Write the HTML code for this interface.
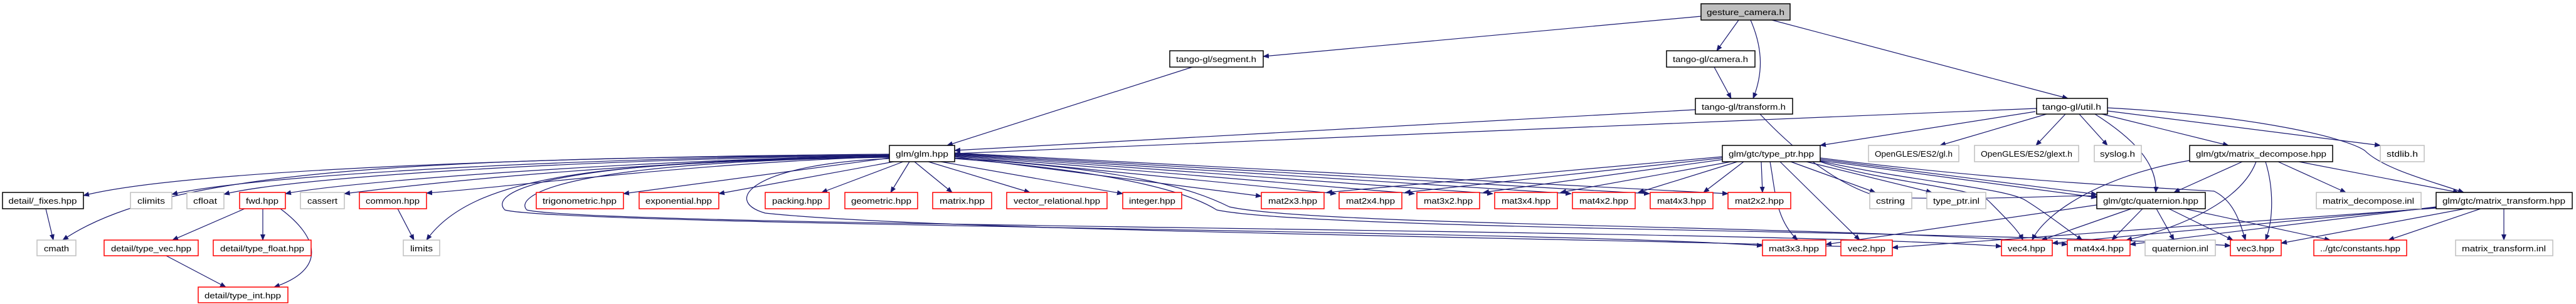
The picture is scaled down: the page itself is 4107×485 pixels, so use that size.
<!DOCTYPE html>
<html><head><meta charset="utf-8"><style>
html,body{margin:0;padding:0;background:#fff;}
svg{display:block;}
text{font-family:"Liberation Sans",sans-serif;font-size:13px;fill:#000;}
.e{fill:none;stroke:#191970;stroke-width:1.2;}
</style></head><body>
<svg width="4107" height="485" viewBox="0 0 4107 485" xmlns="http://www.w3.org/2000/svg">
<defs><marker id="a" markerWidth="10" markerHeight="8" refX="9" refY="4" orient="auto" markerUnits="userSpaceOnUse"><path d="M0,0 L10,4 L0,8 z" fill="#191970"/></marker></defs>
<g class="e" marker-end="url(#a)">
<path d="M2712,26 L2014,90"/>
<path d="M2772,32 L2737,81"/>
<path d="M2791,32 C2812,80 2810,120 2795,157"/>
<path d="M2825,32 L3297,157"/>
<path d="M1901,107 L1510,232"/>
<path d="M2733,107 L2760,157"/>
<path d="M2703,175 L1522,240"/>
<path d="M2806,182 C2870,250 2940,300 3000,315 C3200,320 3300,310 3343,313"/>
<path d="M3247,173 C2800,190 1900,230 1522,245"/>
<path d="M3245,178 L2902,232"/>
<path d="M3263,182 L3093,232"/>
<path d="M3293,182 L3246,232"/>
<path d="M3315,182 L3360,232"/>
<path d="M3351,182 L3553,232"/>
<path d="M3340,182 C3400,220 3440,260 3437,307"/>
<path d="M3360,177 L3795,232"/>
<path d="M3360,172 C3600,185 3740,220 3770,240 C3800,270 3880,290 3928,307"/>
<path d="M1418,246 C900,250 300,270 133,312"/>
<path d="M1418,247 C900,252 400,280 274,310"/>
<path d="M1418,248 C900,254 450,285 357,310"/>
<path d="M1418,248 C1000,256 550,290 455,309"/>
<path d="M1418,249 C1000,258 700,290 549,309"/>
<path d="M1418,250 C1100,260 800,300 680,308"/>
<path d="M1418,248 C600,250 250,280 100,383"/>
<path d="M1418,250 C1000,260 760,270 680,383"/>
<path d="M1418,252 L994,309"/>
<path d="M1425,258 L1146,309"/>
<path d="M1440,258 L1310,307"/>
<path d="M1450,258 L1420,307"/>
<path d="M1458,258 L1518,307"/>
<path d="M1480,258 L1642,307"/>
<path d="M1500,258 L1790,309"/>
<path d="M1522,250 L2011,313"/>
<path d="M1522,249 L2130,309"/>
<path d="M1522,248 L2255,309"/>
<path d="M1522,247 L2380,309"/>
<path d="M1522,246 L2505,309"/>
<path d="M1522,245 L2630,309"/>
<path d="M1522,244 L2755,309"/>
<path d="M1418,250 C850,255 780,310 805,335 C900,360 2500,368 2810,392"/>
<path d="M1418,251 C880,258 820,315 840,335 C950,362 2800,365 3191,393"/>
<path d="M1522,252 C1800,270 1900,300 1960,330 C2100,362 3000,360 3296,390"/>
<path d="M1522,253 C1800,275 1900,310 1940,335 C2100,368 3200,368 3556,392"/>
<path d="M1418,253 C1200,262 1150,320 1220,340 C1500,370 2600,380 3017,396"/>
<path d="M73,333 L85,383"/>
<path d="M390,333 L275,383"/>
<path d="M419,333 L419,383"/>
<path d="M447,333 C510,380 520,430 437,458"/>
<path d="M265,408 L360,458"/>
<path d="M634,333 L660,383"/>
<path d="M2746,250 L2115,307"/>
<path d="M2746,252 L2240,307"/>
<path d="M2750,254 L2365,307"/>
<path d="M2760,258 L2488,307"/>
<path d="M2770,258 L2612,307"/>
<path d="M2780,258 L2716,307"/>
<path d="M2808,258 L2810,307"/>
<path d="M2822,258 C2830,300 2830,350 2866,383"/>
<path d="M2838,258 L2965,383"/>
<path d="M2855,258 L2990,307"/>
<path d="M2880,258 L3080,307"/>
<path d="M2902,254 L3343,310"/>
<path d="M2902,256 L3343,315"/>
<path d="M2902,258 C3000,290 3150,300 3170,320 C3200,350 3220,370 3225,383"/>
<path d="M2902,257 C3050,290 3200,300 3230,320 C3270,345 3300,370 3320,383"/>
<path d="M2902,252 C3200,290 3450,300 3530,305 C3560,320 3570,350 3580,383"/>
<path d="M3491,256 C3350,280 3260,340 3240,383"/>
<path d="M3575,258 L3466,307"/>
<path d="M3597,258 C3570,330 3450,370 3390,383"/>
<path d="M3612,258 C3625,300 3625,350 3612,383"/>
<path d="M3632,258 L3740,307"/>
<path d="M3665,258 L3920,307"/>
<path d="M3343,327 L2911,390"/>
<path d="M3398,333 L3255,383"/>
<path d="M3416,333 L3367,383"/>
<path d="M3438,333 L3466,383"/>
<path d="M3458,333 L3560,383"/>
<path d="M3483,333 L3715,383"/>
<path d="M3884,330 L3396,390"/>
<path d="M3884,331 L3272,388"/>
<path d="M3884,332 L3017,395"/>
<path d="M3930,333 L3637,388"/>
<path d="M3955,333 L3808,383"/>
<path d="M3992,333 L3992,383"/>
</g>
<g stroke-width="1.5">
<!-- nodes -->
<rect x="2712" y="6" width="142" height="26" fill="#bfbfbf" stroke="#000"/><text x="2783" y="24" text-anchor="middle" textLength="124" lengthAdjust="spacingAndGlyphs">gesture_camera.h</text>
<rect x="1865" y="81" width="149" height="26" fill="#fff" stroke="#000"/><text x="1939" y="99" text-anchor="middle" textLength="128" lengthAdjust="spacingAndGlyphs">tango-gl/segment.h</text>
<rect x="2657" y="81" width="141" height="26" fill="#fff" stroke="#000"/><text x="2727" y="99" text-anchor="middle" textLength="120" lengthAdjust="spacingAndGlyphs">tango-gl/camera.h</text>
<rect x="2703" y="157" width="155" height="25" fill="#fff" stroke="#000"/><text x="2780" y="175" text-anchor="middle" textLength="134" lengthAdjust="spacingAndGlyphs">tango-gl/transform.h</text>
<rect x="3247" y="157" width="113" height="25" fill="#fff" stroke="#000"/><text x="3303" y="175" text-anchor="middle" textLength="94" lengthAdjust="spacingAndGlyphs">tango-gl/util.h</text>
<rect x="1418" y="232" width="104" height="26" fill="#fff" stroke="#000"/><text x="1470" y="250" text-anchor="middle" textLength="84" lengthAdjust="spacingAndGlyphs">glm/glm.hpp</text>
<rect x="2746" y="232" width="156" height="26" fill="#fff" stroke="#000"/><text x="2824" y="250" text-anchor="middle" textLength="136" lengthAdjust="spacingAndGlyphs">glm/gtc/type_ptr.hpp</text>
<rect x="2979" y="232" width="144" height="26" fill="#fff" stroke="#bfbfbf"/><text x="3051" y="250" text-anchor="middle" textLength="124" lengthAdjust="spacingAndGlyphs">OpenGLES/ES2/gl.h</text>
<rect x="3148" y="232" width="166" height="26" fill="#fff" stroke="#bfbfbf"/><text x="3231" y="250" text-anchor="middle" textLength="146" lengthAdjust="spacingAndGlyphs">OpenGLES/ES2/glext.h</text>
<rect x="3339" y="232" width="75" height="26" fill="#fff" stroke="#bfbfbf"/><text x="3376" y="250" text-anchor="middle" textLength="56" lengthAdjust="spacingAndGlyphs">syslog.h</text>
<rect x="3491" y="232" width="228" height="26" fill="#fff" stroke="#000"/><text x="3605" y="250" text-anchor="middle" textLength="208" lengthAdjust="spacingAndGlyphs">glm/gtx/matrix_decompose.hpp</text>
<rect x="3795" y="232" width="70" height="26" fill="#fff" stroke="#bfbfbf"/><text x="3830" y="250" text-anchor="middle" textLength="50" lengthAdjust="spacingAndGlyphs">stdlib.h</text>

<rect x="4" y="307" width="129" height="26" fill="#fff" stroke="#000"/><text x="68" y="325" text-anchor="middle" textLength="109" lengthAdjust="spacingAndGlyphs">detail/_fixes.hpp</text>
<rect x="208" y="307" width="66" height="26" fill="#fff" stroke="#bfbfbf"/><text x="241" y="325" text-anchor="middle" textLength="44" lengthAdjust="spacingAndGlyphs">climits</text>
<rect x="298" y="307" width="59" height="26" fill="#fff" stroke="#bfbfbf"/><text x="327" y="325" text-anchor="middle" textLength="38" lengthAdjust="spacingAndGlyphs">cfloat</text>
<rect x="382" y="307" width="73" height="26" fill="#fff" stroke="#f00"/><text x="418" y="325" text-anchor="middle" textLength="52" lengthAdjust="spacingAndGlyphs">fwd.hpp</text>
<rect x="479" y="307" width="70" height="26" fill="#fff" stroke="#bfbfbf"/><text x="514" y="325" text-anchor="middle" textLength="48" lengthAdjust="spacingAndGlyphs">cassert</text>
<rect x="573" y="307" width="107" height="26" fill="#fff" stroke="#f00"/><text x="626" y="325" text-anchor="middle" textLength="86" lengthAdjust="spacingAndGlyphs">common.hpp</text>
<rect x="855" y="307" width="139" height="26" fill="#fff" stroke="#f00"/><text x="924" y="325" text-anchor="middle" textLength="118" lengthAdjust="spacingAndGlyphs">trigonometric.hpp</text>
<rect x="1019" y="307" width="127" height="26" fill="#fff" stroke="#f00"/><text x="1082" y="325" text-anchor="middle" textLength="106" lengthAdjust="spacingAndGlyphs">exponential.hpp</text>
<rect x="1220" y="307" width="102" height="26" fill="#fff" stroke="#f00"/><text x="1271" y="325" text-anchor="middle" textLength="80" lengthAdjust="spacingAndGlyphs">packing.hpp</text>
<rect x="1347" y="307" width="116" height="26" fill="#fff" stroke="#f00"/><text x="1405" y="325" text-anchor="middle" textLength="96" lengthAdjust="spacingAndGlyphs">geometric.hpp</text>
<rect x="1487" y="307" width="94" height="26" fill="#fff" stroke="#f00"/><text x="1534" y="325" text-anchor="middle" textLength="72" lengthAdjust="spacingAndGlyphs">matrix.hpp</text>
<rect x="1605" y="307" width="160" height="26" fill="#fff" stroke="#f00"/><text x="1685" y="325" text-anchor="middle" textLength="138" lengthAdjust="spacingAndGlyphs">vector_relational.hpp</text>
<rect x="1790" y="307" width="94" height="26" fill="#fff" stroke="#f00"/><text x="1837" y="325" text-anchor="middle" textLength="74" lengthAdjust="spacingAndGlyphs">integer.hpp</text>
<rect x="2011" y="307" width="100" height="26" fill="#fff" stroke="#f00"/><text x="2061" y="325" text-anchor="middle" textLength="78" lengthAdjust="spacingAndGlyphs">mat2x3.hpp</text>
<rect x="2135" y="307" width="100" height="26" fill="#fff" stroke="#f00"/><text x="2185" y="325" text-anchor="middle" textLength="78" lengthAdjust="spacingAndGlyphs">mat2x4.hpp</text>
<rect x="2259" y="307" width="100" height="26" fill="#fff" stroke="#f00"/><text x="2309" y="325" text-anchor="middle" textLength="78" lengthAdjust="spacingAndGlyphs">mat3x2.hpp</text>
<rect x="2383" y="307" width="100" height="26" fill="#fff" stroke="#f00"/><text x="2433" y="325" text-anchor="middle" textLength="78" lengthAdjust="spacingAndGlyphs">mat3x4.hpp</text>
<rect x="2507" y="307" width="100" height="26" fill="#fff" stroke="#f00"/><text x="2557" y="325" text-anchor="middle" textLength="78" lengthAdjust="spacingAndGlyphs">mat4x2.hpp</text>
<rect x="2631" y="307" width="100" height="26" fill="#fff" stroke="#f00"/><text x="2681" y="325" text-anchor="middle" textLength="78" lengthAdjust="spacingAndGlyphs">mat4x3.hpp</text>
<rect x="2755" y="307" width="100" height="26" fill="#fff" stroke="#f00"/><text x="2805" y="325" text-anchor="middle" textLength="78" lengthAdjust="spacingAndGlyphs">mat2x2.hpp</text>
<rect x="2981" y="307" width="67" height="26" fill="#fff" stroke="#bfbfbf"/><text x="3014" y="325" text-anchor="middle" textLength="46" lengthAdjust="spacingAndGlyphs">cstring</text>
<rect x="3072" y="307" width="94" height="26" fill="#fff" stroke="#bfbfbf"/><text x="3119" y="325" text-anchor="middle" textLength="74" lengthAdjust="spacingAndGlyphs">type_ptr.inl</text>
<rect x="3343" y="307" width="173" height="26" fill="#fff" stroke="#000"/><text x="3429" y="325" text-anchor="middle" textLength="152" lengthAdjust="spacingAndGlyphs">glm/gtc/quaternion.hpp</text>
<rect x="3693" y="307" width="167" height="26" fill="#fff" stroke="#bfbfbf"/><text x="3776" y="325" text-anchor="middle" textLength="146" lengthAdjust="spacingAndGlyphs">matrix_decompose.inl</text>
<rect x="3884" y="307" width="217" height="26" fill="#fff" stroke="#000"/><text x="3992" y="325" text-anchor="middle" textLength="196" lengthAdjust="spacingAndGlyphs">glm/gtc/matrix_transform.hpp</text>

<rect x="59" y="383" width="62" height="25" fill="#fff" stroke="#bfbfbf"/><text x="90" y="401" text-anchor="middle" textLength="40" lengthAdjust="spacingAndGlyphs">cmath</text>
<rect x="166" y="383" width="150" height="25" fill="#fff" stroke="#f00"/><text x="241" y="401" text-anchor="middle" textLength="128" lengthAdjust="spacingAndGlyphs">detail/type_vec.hpp</text>
<rect x="340" y="383" width="156" height="25" fill="#fff" stroke="#f00"/><text x="418" y="401" text-anchor="middle" textLength="134" lengthAdjust="spacingAndGlyphs">detail/type_float.hpp</text>
<rect x="643" y="383" width="58" height="25" fill="#fff" stroke="#bfbfbf"/><text x="672" y="401" text-anchor="middle" textLength="36" lengthAdjust="spacingAndGlyphs">limits</text>
<rect x="2810" y="383" width="101" height="25" fill="#fff" stroke="#f00"/><text x="2860" y="401" text-anchor="middle" textLength="80" lengthAdjust="spacingAndGlyphs">mat3x3.hpp</text>
<rect x="2935" y="383" width="82" height="25" fill="#fff" stroke="#f00"/><text x="2976" y="401" text-anchor="middle" textLength="60" lengthAdjust="spacingAndGlyphs">vec2.hpp</text>
<rect x="3191" y="383" width="81" height="25" fill="#fff" stroke="#f00"/><text x="3231" y="401" text-anchor="middle" textLength="60" lengthAdjust="spacingAndGlyphs">vec4.hpp</text>
<rect x="3296" y="383" width="100" height="25" fill="#fff" stroke="#f00"/><text x="3346" y="401" text-anchor="middle" textLength="80" lengthAdjust="spacingAndGlyphs">mat4x4.hpp</text>
<rect x="3420" y="383" width="112" height="25" fill="#fff" stroke="#bfbfbf"/><text x="3476" y="401" text-anchor="middle" textLength="90" lengthAdjust="spacingAndGlyphs">quaternion.inl</text>
<rect x="3556" y="383" width="81" height="25" fill="#fff" stroke="#f00"/><text x="3596" y="401" text-anchor="middle" textLength="60" lengthAdjust="spacingAndGlyphs">vec3.hpp</text>
<rect x="3689" y="383" width="148" height="25" fill="#fff" stroke="#f00"/><text x="3763" y="401" text-anchor="middle" textLength="128" lengthAdjust="spacingAndGlyphs">../gtc/constants.hpp</text>
<rect x="3915" y="383" width="155" height="25" fill="#fff" stroke="#bfbfbf"/><text x="3992" y="401" text-anchor="middle" textLength="134" lengthAdjust="spacingAndGlyphs">matrix_transform.inl</text>

<rect x="316" y="458" width="143" height="25" fill="#fff" stroke="#f00"/><text x="387" y="476" text-anchor="middle" textLength="122" lengthAdjust="spacingAndGlyphs">detail/type_int.hpp</text>
</g>
</svg>
</body></html>
